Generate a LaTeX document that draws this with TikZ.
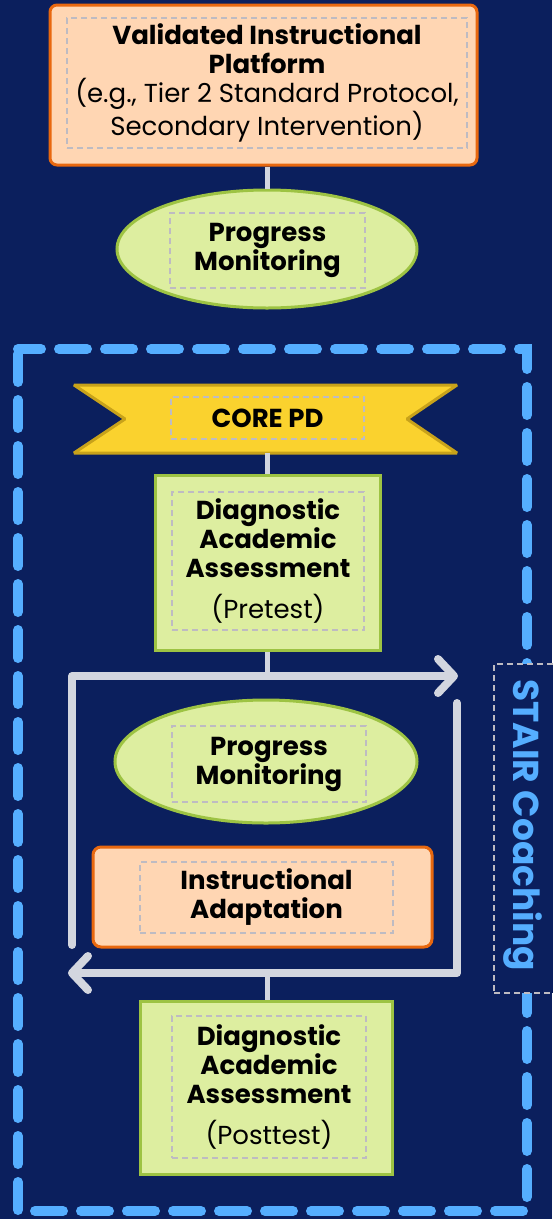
\documentclass[tikz,border=0pt]{standalone}
\usepackage{fontspec}
\setmainfont{Poppins}
\usetikzlibrary{shapes.geometric,arrows.meta,calc}
\definecolor{navy}{HTML}{0B1F5D}
\definecolor{peach}{HTML}{FFD6B3}
\definecolor{orangeb}{HTML}{E8680F}
\definecolor{lgreen}{HTML}{DDEEA0}
\definecolor{greenb}{HTML}{9DC343}
\definecolor{ribbon}{HTML}{FAD22E}
\definecolor{ribbonb}{HTML}{C8A21A}
\definecolor{dashgray}{HTML}{BEBBC2}
\definecolor{linegray}{HTML}{D3D6DF}
\definecolor{skyblue}{HTML}{55AEFF}
\tikzset{
  orangebox/.style={draw=orangeb, fill=peach, line width=3pt, rounded corners=7pt, inner sep=0pt},
  greenbox/.style={draw=greenb, fill=lgreen, line width=3pt, inner sep=0pt},
  greenell/.style={ellipse, draw=greenb, fill=lgreen, line width=3pt, inner sep=0pt},
  innerbox/.style={draw=dashgray, line width=2pt, dash pattern=on 6pt off 4pt, inner sep=0pt, align=center, text=black},
  conn/.style={draw=linegray, line width=5pt},
  loopline/.style={draw=linegray, line width=8pt, line cap=round, line join=round},
  bigtxt/.style={font=\fontsize{26}{29}\selectfont},
}
\begin{document}
\begin{tikzpicture}[x=1pt,y=-1pt]
\useasboundingbox (0,0) rectangle (552,1219);
\fill[navy] (0,0) rectangle (552,1219);

% outer blue dashed frame
\draw[skyblue, line width=10pt, line cap=round, dash pattern=on 28pt off 18pt, dash phase=-5pt]
  (18,349) rectangle (527,1211);

% STAIR Coaching label
\node[draw=dashgray, fill=navy, line width=2pt, dash pattern=on 6pt off 4pt,
      minimum width=70pt, minimum height=329pt, anchor=north west, inner sep=0pt] (stairbox) at (493,663) {};
\node[rotate=-90, text=skyblue, font=\fontsize{36}{36}\selectfont\bfseries] (stair) at (523,825) {STAIR Coaching};

% top box
\node[orangebox, minimum width=427pt, minimum height=160pt] (top) at (263.5,85) {};
\node[innerbox, minimum width=400pt, minimum height=130pt, bigtxt] (topin) at (267,83)
  {\textbf{Validated Instructional}\\\textbf{Platform}\\(e.g., Tier 2 Standard Protocol,\\Secondary Intervention)};

% progress monitoring 1
\node[greenell, minimum width=300pt, minimum height=118pt] (pm1) at (267,249) {};
\node[innerbox, minimum width=195pt, minimum height=75pt, bigtxt] (pm1in) at (267.5,250.5)
  {\textbf{Progress}\\\textbf{Monitoring}};
\draw[conn] (pm1.north |- top.south) -- (pm1.north);

% CORE PD ribbon
\draw[fill=ribbon, draw=ribbonb, line width=3pt, line join=bevel]
  (74,385) -- (457,385) -- (407,419) -- (457,453) -- (74,453) -- (125,419) -- cycle;
\node[innerbox, minimum width=193pt, minimum height=42pt, bigtxt] (core) at (267.5,418) {\textbf{CORE PD}};

% pretest box
\node[greenbox, minimum width=225pt, minimum height=175pt] (pre) at (267.5,562.5) {};
\node[innerbox, minimum width=192pt, minimum height=138pt, bigtxt] (prein) at (268,561)
  {\textbf{Diagnostic}\\\textbf{Academic}\\\textbf{Assessment}\\[12pt](Pretest)};
\draw[conn] (267,453) -- (pre.north -| 267,0);

% loop
\coordinate (ltop) at (72,676);
\coordinate (ltopend) at (458,676);
\coordinate (lleft) at (72,945);
\coordinate (rtop) at (457,703);
\coordinate (rbot) at (457,973);
\coordinate (lbotend) at (68,973);
\draw[conn] (pre.south -| 267,0) -- (267,676);
\draw[loopline, -{Straight Barb[length=16pt,width=34pt,line cap=round,line join=round]}]
  (lleft) -- (ltop) -- (ltopend);
\draw[loopline, -{Straight Barb[length=16pt,width=34pt,line cap=round,line join=round]}]
  (rtop) -- (rbot) -- (lbotend);

% progress monitoring 2
\node[greenell, minimum width=302pt, minimum height=123pt] (pm2) at (266,761.5) {};
\node[innerbox, minimum width=194pt, minimum height=76pt, bigtxt] (pm2in) at (269,764)
  {\textbf{Progress}\\\textbf{Monitoring}};

% instructional adaptation
\node[orangebox, rounded corners=8pt, minimum width=339pt, minimum height=100pt] (adapt) at (262.5,897) {};
\node[innerbox, minimum width=253pt, minimum height=71pt, bigtxt] (adaptin) at (266.5,897.5)
  {\textbf{Instructional}\\\textbf{Adaptation}};

% posttest box
\node[greenbox, minimum width=252pt, minimum height=173pt] (post) at (266,1087.5) {};
\node[innerbox, minimum width=194pt, minimum height=142pt, bigtxt] (postin) at (269,1087)
  {\textbf{Diagnostic}\\\textbf{Academic}\\\textbf{Assessment}\\[12pt](Posttest)};
\draw[conn] (267,973) -- (post.north -| 267,0);
\end{tikzpicture}
\end{document}
